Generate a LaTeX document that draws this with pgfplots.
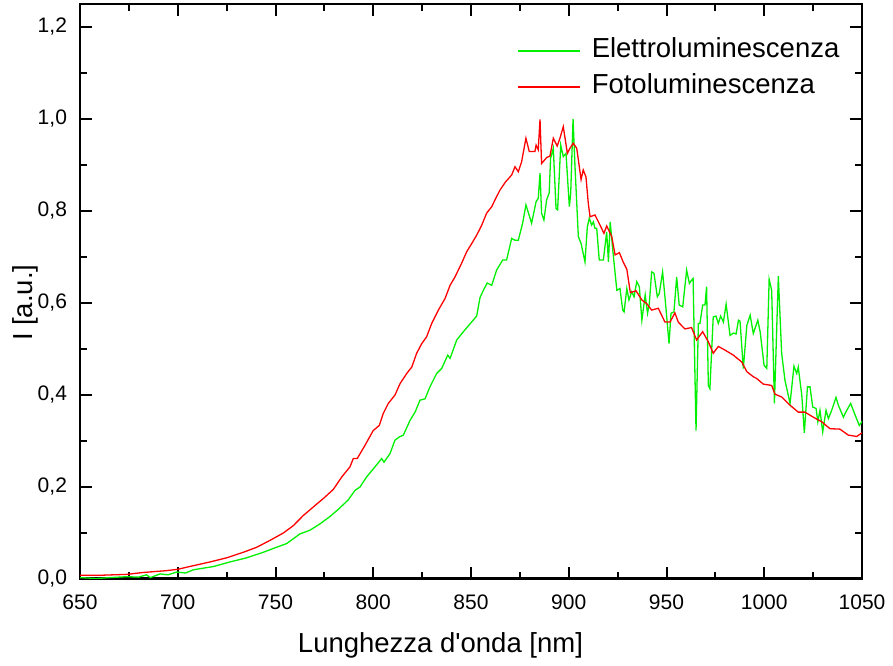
\documentclass[border=0pt]{standalone}
\usepackage{fontspec}
\setmainfont{Liberation Sans}
\usepackage{pgfplots}
\pgfplotsset{compat=1.18}
\definecolor{elgreen}{RGB}{0,240,0}
\definecolor{fotored}{RGB}{255,0,0}

\begin{document}
\begin{tikzpicture}
\begin{axis}[
    scale only axis,
    width=391pt, height=287.25pt,
    xmin=650, xmax=1050,
    ymin=0, ymax=1.25,
    xtick={650,700,750,800,850,900,950,1000,1050},
    ytick={0,0.2,0.4,0.6,0.8,1.0,1.2},
    minor x tick num=1,
    minor y tick num=1,
    tick align=inside,
    major tick length=6pt,
    minor tick length=3.5pt,
    axis line style={line width=1.2pt},
    every tick/.style={line width=1pt, black},
    /pgf/number format/assume math mode=true,
    tick label style={font=\fontsize{10.5}{12}\selectfont},
    xticklabel style={yshift=-4.5pt, /pgf/number format/1000 sep={}},
    yticklabel style={xshift=-3pt, /pgf/number format/.cd, use comma, fixed, fixed zerofill, precision=1},
    xlabel={Lunghezza d\textquotesingle onda [nm]},
    ylabel={I [a.u.]},
    label style={font=\fontsize{13.75}{16}\selectfont},
    xlabel style={at={(axis description cs:0.461,-0.128)}, anchor=base},
    ylabel style={at={(axis description cs:-0.0601,0.48)}, anchor=base},
    legend style={at={(axis description cs:0.558,0.9495)}, anchor=north west,
        draw=none, fill=none, inner sep=0pt,
        font=\fontsize{13.75}{16}\selectfont,
        nodes={text height=10pt, text depth=4pt, inner ysep=2pt, inner xsep=5.5pt}},
    legend cell align=left,
    legend image code/.code={\draw[#1, line width=1pt] (0pt,0pt) -- (31pt,0pt);},
]
\addplot[color=elgreen, line width=0.65pt] coordinates {
(650,0.002) (658.5,0.000) (665.3,0.002) (674,0.004) (680,0.003) (684,0.008) (686,0.002)
(691,0.010) (695,0.008) (699.4,0.014) (704,0.012) (708,0.019) (718.2,0.026) (726.7,0.036)
(735.2,0.045) (743.7,0.057) (749.9,0.067) (755.7,0.076) (762.5,0.097) (767.6,0.105)
(772.8,0.119) (777.9,0.135) (782,0.150) (787.2,0.171) (790.7,0.192) (793.2,0.199)
(796.6,0.221) (800.9,0.243) (804.3,0.261) (805.5,0.253) (808.6,0.272) (811.1,0.301)
(813.3,0.308) (815.4,0.312) (818.8,0.344) (821.4,0.362) (823.9,0.388) (826.5,0.391)
(829.0,0.417) (832.4,0.446) (835.0,0.457) (838.1,0.486) (839.3,0.479) (842.7,0.519)
(846.1,0.537) (852.9,0.571) (854.6,0.611) (856.3,0.627) (858.3,0.643) (860.6,0.638)
(863.1,0.671) (866.2,0.693) (868.2,0.693) (870.8,0.740) (872.5,0.736) (874.2,0.736)
(876.4,0.773) (878.1,0.813) (881.0,0.773) (883.3,0.820) (884.4,0.827) (885.3,0.882)
(886.1,0.795) (887.3,0.780) (888.7,0.824) (890.0,0.839) (890.7,0.914) (892.1,0.936)
(893.5,0.805) (894.3,0.802) (895.9,0.943) (897.2,0.918) (898.6,0.925) (900.3,0.809)
(901.0,0.838) (902.2,1.000) (903.2,0.896) (904.9,0.744) (906.3,0.729) (908.3,0.689)
(909.5,0.765) (910.5,0.784) (911.7,0.769) (912.6,0.776) (913.4,0.762) (914.3,0.762)
(915.6,0.693) (917.7,0.693) (919.4,0.754) (920.3,0.689) (921.2,0.776) (922.5,0.715)
(924.6,0.627) (926.2,0.631) (927.6,0.584) (928.3,0.580) (929.7,0.631) (930.8,0.606)
(932.2,0.624) (933.4,0.613) (934.8,0.646) (936.1,0.635) (937.4,0.562) (939.1,0.617)
(940.3,0.577) (941.2,0.598) (942.4,0.667) (943.6,0.664) (945.3,0.613) (946.3,0.620)
(948.0,0.667) (949.2,0.613) (951.3,0.511) (952.3,0.577) (953.8,0.580) (955.2,0.656)
(956.5,0.595) (958.3,0.591) (960.3,0.671) (961.7,0.642) (962.8,0.649) (963.6,0.653)
(965.1,0.322) (966.3,0.555) (967.1,0.555) (968.5,0.595) (969.7,0.595) (970.5,0.635)
(971.4,0.420) (972.2,0.413) (973.9,0.569) (975.3,0.571) (976.5,0.555) (977.7,0.571)
(979.1,0.558) (980.5,0.597) (982.5,0.529) (984.2,0.534) (985.6,0.532) (986.8,0.562)
(987.6,0.560) (989.3,0.457) (991.1,0.551) (992.8,0.573) (994.4,0.533) (996.7,0.562)
(997.9,0.537) (999.9,0.464) (1001.3,0.457) (1002.5,0.651) (1003.8,0.627) (1005.2,0.381)
(1007.2,0.658) (1008.9,0.490) (1010.6,0.431) (1013.2,0.381) (1015.2,0.462) (1016.6,0.446)
(1017.4,0.460) (1019.2,0.399) (1020.5,0.317) (1022.1,0.417) (1023.4,0.417) (1024.8,0.373)
(1026.5,0.370) (1027.4,0.341) (1028.5,0.366) (1029.9,0.319) (1031.6,0.366) (1032.8,0.348)
(1034.5,0.366) (1036.7,0.394) (1037.9,0.377) (1040.5,0.351) (1042.2,0.366) (1044.2,0.381)
(1045.9,0.362) (1048.6,0.333) (1050.4,0.344)
};
\addlegendentry{Elettroluminescenza}
\addplot[color=fotored, line width=0.65pt] coordinates {
(650,0.007) (660,0.007) (674,0.009) (682,0.013) (694,0.017) (700,0.020) (706,0.026)
(716.5,0.036) (725,0.045) (733.5,0.057) (740.4,0.068) (747.2,0.083) (754,0.099)
(759.1,0.115) (764.2,0.137) (771.1,0.162) (775,0.176) (779.6,0.194) (783.9,0.221)
(788.1,0.243) (789.8,0.261) (791.8,0.261) (795.8,0.290) (800,0.322) (803.1,0.333)
(805.1,0.359) (807.7,0.381) (811.1,0.399) (813.7,0.424) (817.1,0.446) (819.7,0.460)
(822.2,0.490) (824.8,0.511) (827.3,0.526) (829.9,0.555) (833.3,0.584) (836.7,0.609)
(839.3,0.638) (841.8,0.656) (845.2,0.686) (847.8,0.711) (850.4,0.729) (852.9,0.747)
(855.5,0.769) (858,0.795) (860.6,0.809) (862.3,0.824) (864.8,0.845) (867.5,0.862)
(870.8,0.878) (872.5,0.896) (874.2,0.885) (875.9,0.907) (878.1,0.958) (879.8,0.929)
(882.7,0.929) (883.3,0.943) (884.4,0.933) (885.3,0.999) (886.1,0.903) (888.7,0.916)
(890.4,0.919) (892.1,0.958) (894.1,0.941) (895.5,0.958) (897.2,0.983) (899.3,0.925)
(900.6,0.936) (902.3,0.947) (904.1,0.936) (906.3,0.868) (907.4,0.889) (908.8,0.874)
(910.0,0.816) (910.9,0.787) (913.4,0.791) (916.0,0.769) (918.0,0.751) (919.4,0.767)
(922.0,0.744) (923.7,0.704) (925.9,0.709) (927.9,0.688) (929.7,0.673) (931.5,0.622)
(934.4,0.626) (937.4,0.606) (939.9,0.598) (942.4,0.584) (945.8,0.588) (949.2,0.558)
(951.8,0.558) (954.3,0.578) (956.0,0.558) (959.4,0.543) (962.8,0.546) (965.4,0.519)
(968.5,0.537) (971.4,0.515) (973.9,0.490) (976.5,0.505) (979.9,0.497) (984.2,0.486)
(988.5,0.471) (991.1,0.450) (994.4,0.439) (996.2,0.435) (999.5,0.423) (1003.8,0.420)
(1005.5,0.401) (1008.9,0.395) (1013.2,0.377) (1017.4,0.362) (1020.8,0.362) (1025.1,0.351)
(1029.4,0.341) (1033.6,0.326) (1038.7,0.325) (1043,0.312) (1047.3,0.309) (1050,0.317)
};
\addlegendentry{Fotoluminescenza}
\end{axis}
\path ([shift={(-40pt,-43.25pt)}]current axis.south west) rectangle ([shift={(15.5pt,2pt)}]current axis.north east);
\end{tikzpicture}
\end{document}
